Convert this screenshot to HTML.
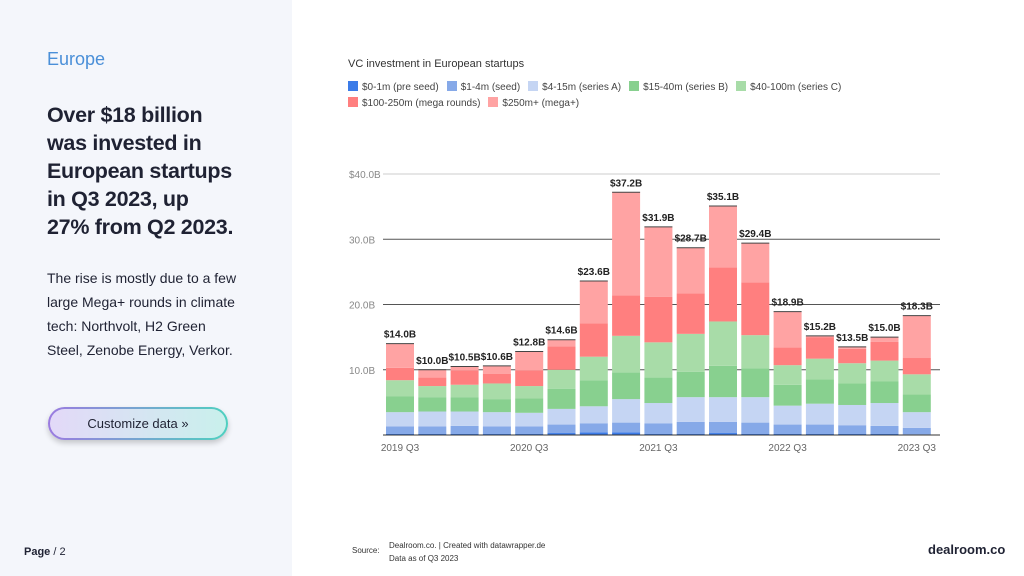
<!DOCTYPE html>
<html><head><meta charset="utf-8"><style>
body{margin:0;width:1024px;height:576px;position:relative;font-family:"Liberation Sans",sans-serif;background:#fff;overflow:hidden}
#left{position:absolute;left:0;top:0;width:292px;height:576px;background:#f4f6fb}
.abs{position:absolute}
</style></head><body>
<div id="left">
<div class="abs" style="left:47px;top:49px;font-size:18px;color:#4a8fd8">Europe</div>
<div class="abs" style="left:47px;top:101px;width:245px;font-size:21.5px;font-weight:bold;line-height:28px;color:#1f2233;white-space:nowrap;letter-spacing:-0.3px">Over $18 billion<br>was invested in<br>European startups<br>in Q3 2023, up<br>27% from Q2 2023.</div>
<div class="abs" style="left:47px;top:266px;width:240px;font-size:14px;line-height:24px;color:#1f2233;white-space:nowrap">The rise is mostly due to a few<br>large Mega+ rounds in climate<br>tech: Northvolt, H2 Green<br>Steel, Zenobe Energy, Verkor.</div>
<div class="abs" style="left:48px;top:407px;width:180px;height:33px;border-radius:17px;background:linear-gradient(90deg,#9b7be0,#4fd0c0);box-shadow:0 3px 6px rgba(0,0,0,0.2)"><div style="position:absolute;left:2px;top:2px;right:2px;bottom:2px;border-radius:15px;background:linear-gradient(90deg,#e3d9f8,#c9f0ec);font-size:13px;color:#1f2233;text-align:center;line-height:29px">Customize data »</div></div>
<div class="abs" style="left:24px;top:546px;font-size:11px;color:#1f2233"><b>Page</b> / 2</div>
</div>
<div class="abs" style="left:348px;top:58px;font-size:11px;color:#333">VC investment in European startups</div>
<div id="legend" class="abs" style="left:348px;top:80px;width:560px;font-size:10px;color:#444;line-height:16px"></div>
<svg id="chart" class="abs" style="left:0;top:0" width="1024" height="576"></svg>
<div class="abs" style="left:352px;top:546px;font-size:8px;color:#333">Source:</div>
<div class="abs" style="left:389px;top:539px;font-size:8px;color:#333;line-height:13px">Dealroom.co. | Created with datawrapper.de<br>Data as of Q3 2023</div>
<div class="abs" style="left:928px;top:542px;font-size:13px;font-weight:bold;color:#1f2233">dealroom.co</div>
<script>
const categories=["2019 Q3","2019 Q4","2020 Q1","2020 Q2","2020 Q3","2020 Q4","2021 Q1","2021 Q2","2021 Q3","2021 Q4","2022 Q1","2022 Q2","2022 Q3","2022 Q4","2023 Q1","2023 Q2","2023 Q3"];
const seriesNames=["$0-1m (pre seed)","$1-4m (seed)","$4-15m (series A)","$15-40m (series B)","$40-100m (series C)","$100-250m (mega rounds)","$250m+ (mega+)"];
const colors=["#3b7be8","#86a9e8","#c5d5f3","#88d08f","#a8dca8","#ff7f7f","#ffa3a3"];
const preSeed=[0.2,0.2,0.2,0.2,0.2,0.3,0.4,0.4,0.2,0.2,0.3,0.2,0.2,0.2,0.2,0.2,0.1];
const seed=[1.1,1.1,1.2,1.1,1.1,1.3,1.4,1.5,1.6,1.8,1.7,1.7,1.4,1.4,1.3,1.2,1.0];
const seriesA=[2.2,2.3,2.2,2.2,2.1,2.4,2.6,3.6,3.1,3.8,3.8,3.9,2.9,3.2,3.1,3.5,2.4];
const seriesB=[2.4,2.2,2.2,2.0,2.2,3.1,4.0,4.1,3.9,3.9,4.8,4.4,3.2,3.7,3.3,3.3,2.7];
const seriesC=[2.5,1.7,1.9,2.4,1.9,2.9,3.6,5.6,5.4,5.8,6.8,5.1,3.0,3.2,3.1,3.2,3.1];
const mega=[1.9,1.3,2.2,1.5,2.4,3.6,5.1,6.2,7.0,6.2,8.3,8.1,2.7,3.3,2.2,2.9,2.5];
const megaPlus=[3.7,1.2,0.6,1.2,2.9,1.0,6.5,15.8,10.7,7.0,9.4,6.0,5.5,0.2,0.3,0.7,6.5];
const totals=["$14.0B","$10.0B","$10.5B","$10.6B","$12.8B","$14.6B","$23.6B","$37.2B","$31.9B","$28.7B","$35.1B","$29.4B","$18.9B","$15.2B","$13.5B","$15.0B","$18.3B"];
const yTicks=[10,20,30,40];
const yTickLabels=["10.0B","20.0B","30.0B","$40.0B"];
const xLabels={"2019 Q3":"2019 Q3","2020 Q3":"2020 Q3","2021 Q3":"2021 Q3","2022 Q3":"2022 Q3","2023 Q3":"2023 Q3"};
const series=[preSeed,seed,seriesA,seriesB,seriesC,mega,megaPlus];
const NS="http://www.w3.org/2000/svg";
const svg=document.getElementById('chart');
const x0=386,pitch=32.3,bw=28,y0=435,yScale=6.525;
const X=i=>x0+i*pitch; const Y=v=>y0-v*yScale;
function mk(t,a){const e=document.createElementNS(NS,t);for(const k in a)e.setAttribute(k,a[k]);svg.appendChild(e);return e;}
yTicks.forEach((t,i)=>{
 const l=mk('line',{x1:383,x2:940,y1:Y(t),y2:Y(t),stroke:i==3?'#ccc':'#555','stroke-width':1});
 
 
 const tx=mk('text',{x:349,y:Y(t)+4,'font-size':10,fill:'#888','font-family':'Liberation Sans'});tx.textContent=yTickLabels[i];
 
 
});
categories.forEach((c,i)=>{
 let cum=0;
 series.forEach((s,k)=>{
  const r=mk('rect',{x:X(i),y:Y(cum+s[i]),width:bw,height:s[i]*yScale,fill:colors[k]});
  
  
  cum+=s[i];
 });
 const tl=mk('line',{x1:X(i),x2:X(i)+bw,y1:Y(cum),y2:Y(cum),stroke:'#444','stroke-width':1});
 
 
 const t=mk('text',{x:X(i)+bw/2,y:Y(cum)-6,'font-size':10,'font-weight':'bold',fill:'#222','text-anchor':'middle','font-family':'Liberation Sans'});
 t.textContent=totals[i];
 
 
 if(xLabels[c]){const xt=mk('text',{x:X(i)+bw/2,y:451,'font-size':10,fill:'#666','text-anchor':'middle','font-family':'Liberation Sans'});xt.textContent=xLabels[c];
 
 }
});
const base=mk('line',{x1:383,x2:940,y1:y0,y2:y0,stroke:'#333','stroke-width':1});


const lg=document.getElementById('legend');
seriesNames.forEach((n,k)=>{
 const d=document.createElement('span');
 
 
 d.style.cssText='display:inline-block;margin-right:8px;white-space:nowrap';
 d.innerHTML='<span style="display:inline-block;width:10px;height:10px;background:'+colors[k]+';vertical-align:-1px;margin-right:4px"></span>'+n;
 lg.appendChild(d);
 if(k==4)lg.appendChild(document.createElement('br'));
});
</script>
</body></html>
